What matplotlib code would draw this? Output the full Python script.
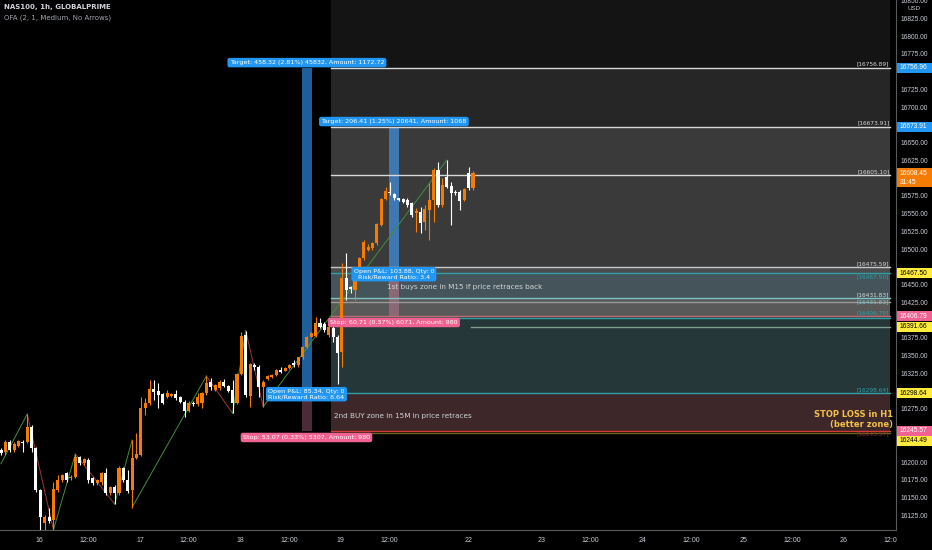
import matplotlib
matplotlib.use('Agg')
import matplotlib.pyplot as plt
import matplotlib.transforms as mtransforms
from matplotlib.patches import Rectangle
import numpy as np


# hourly candles NAS100
opens = [16218.3, 16216.0, 16230.1, 16218.3, 16224.0, 16230.1, 16230.1, 16251.2, 16220.7, 16162.0,
         16116.0, 16124.4, 16119.7, 16162.0, 16176.1, 16185.5, 16178.4, 16180.8, 16208.0, 16199.5,
         16204.2, 16178.4, 16171.4, 16173.7, 16185.5, 16157.3, 16165.7, 16157.3, 16192.5, 16176.1,
         16162.0, 16206.6, 16211.3, 16277.0, 16284.0, 16303.8, 16301.9, 16297.2, 16293.4, 16294.4,
         16297.2, 16292.5, 16286.4, 16273.7, 16285.0, 16283.1, 16284.0, 16298.1, 16314.6, 16302.8,
         16305.2, 16314.6, 16308.5, 16302.8, 16284.0, 16325.4, 16380.3, 16294.4, 16338.1, 16335.7,
         16306.6, 16318.8, 16321.6, 16324.0, 16331.0, 16330.1, 16333.4, 16340.4, 16338.1, 16348.9,
         16363.9, 16378.0, 16378.9, 16396.8, 16395.8, 16380.3, 16390.0, 16378.0, 16356.9, 16460.1,
         16448.4, 16443.7, 16464.8, 16488.3, 16500.1, 16502.4, 16509.4, 16535.3, 16571.4, 16582.2,
         16578.9, 16572.8, 16571.4, 16570.5, 16565.8, 16551.7, 16554.0, 16539.9, 16556.4, 16570.5,
         16612.7, 16563.4, 16603.3, 16590.2, 16582.2, 16582.2, 16570.5, 16608.0, 16586.9]
highs = [16220.7, 16232.4, 16232.0, 16229.0, 16233.0, 16232.4, 16269.0, 16253.0, 16223.0, 16163.0,
         16126.8, 16136.2, 16173.7, 16183.1, 16185.0, 16187.8, 16183.0, 16212.7, 16210.0, 16207.0,
         16206.6, 16180.0, 16178.0, 16187.8, 16192.5, 16168.0, 16169.0, 16195.8, 16194.9, 16190.2,
         16232.4, 16241.8, 16293.4, 16291.1, 16316.9, 16316.9, 16312.2, 16299.1, 16302.8, 16299.0,
         16302.8, 16294.0, 16288.8, 16287.0, 16287.0, 16298.1, 16300.5, 16322.6, 16319.3, 16312.0,
         16316.9, 16317.9, 16310.0, 16316.9, 16326.3, 16385.0, 16386.4, 16340.4, 16340.4, 16338.1,
         16316.9, 16324.0, 16326.0, 16333.0, 16335.7, 16335.0, 16340.0, 16345.1, 16349.8, 16365.0,
         16379.0, 16385.0, 16406.1, 16403.8, 16398.0, 16395.0, 16393.0, 16381.0, 16481.3, 16495.4,
         16450.0, 16467.2, 16490.7, 16514.1, 16508.0, 16512.0, 16538.0, 16573.0, 16589.3, 16596.3,
         16580.0, 16574.0, 16573.0, 16572.8, 16568.1, 16558.7, 16561.1, 16563.4, 16593.9, 16615.1,
         16624.5, 16601.0, 16626.8, 16596.3, 16584.0, 16584.6, 16587.0, 16617.4, 16612.0]
lows = [16211.3, 16211.3, 16216.0, 16216.0, 16222.0, 16216.0, 16227.7, 16216.0, 16159.6, 16105.7,
        16106.0, 16116.0, 16106.0, 16159.6, 16174.0, 16173.7, 16176.0, 16178.4, 16197.0, 16197.0,
        16172.3, 16169.0, 16169.0, 16169.0, 16154.9, 16155.0, 16142.3, 16154.9, 16173.7, 16157.3,
        16136.2, 16205.0, 16209.9, 16267.6, 16281.7, 16288.8, 16277.0, 16283.1, 16291.1, 16293.0,
        16288.8, 16285.0, 16265.3, 16272.0, 16281.0, 16280.3, 16277.0, 16295.8, 16302.8, 16301.0,
        16302.8, 16306.6, 16300.0, 16270.0, 16283.1, 16324.0, 16293.4, 16278.4, 16331.0, 16293.4,
        16279.4, 16317.0, 16320.0, 16322.0, 16326.3, 16329.0, 16332.0, 16335.7, 16335.7, 16347.0,
        16362.0, 16377.0, 16378.0, 16389.7, 16385.0, 16378.0, 16370.0, 16312.0, 16335.7, 16429.6,
        16440.0, 16429.6, 16462.5, 16486.0, 16498.0, 16500.0, 16507.0, 16534.0, 16570.5, 16577.5,
        16571.0, 16569.0, 16566.0, 16561.1, 16547.0, 16525.9, 16523.5, 16528.2, 16514.1, 16539.9,
        16561.1, 16561.1, 16586.9, 16535.3, 16578.0, 16556.4, 16569.0, 16584.6, 16585.0]
closes = [16213.6, 16230.1, 16218.3, 16226.8, 16231.5, 16227.7, 16251.2, 16220.7, 16162.0, 16124.4,
          16124.4, 16118.8, 16162.9, 16176.1, 16183.1, 16176.1, 16180.8, 16208.9, 16199.5, 16205.2,
          16176.1, 16171.4, 16176.1, 16185.5, 16157.3, 16166.7, 16157.3, 16192.5, 16176.1, 16161.0,
          16206.6, 16212.7, 16277.0, 16284.0, 16303.8, 16300.5, 16295.8, 16284.0, 16298.1, 16297.2,
          16291.1, 16286.4, 16273.3, 16285.0, 16283.1, 16293.4, 16299.1, 16312.2, 16306.6, 16309.9,
          16314.6, 16308.5, 16301.9, 16284.0, 16325.4, 16378.9, 16295.8, 16339.5, 16334.8, 16307.5,
          16314.6, 16322.6, 16324.0, 16331.0, 16328.7, 16333.4, 16338.1, 16338.1, 16348.9, 16363.9,
          16378.0, 16383.6, 16396.8, 16392.1, 16387.4, 16392.1, 16378.0, 16355.0, 16460.1, 16443.7,
          16444.7, 16464.8, 16488.3, 16511.8, 16504.8, 16510.4, 16536.7, 16571.4, 16583.6, 16579.9,
          16572.8, 16570.5, 16568.1, 16563.4, 16549.3, 16555.4, 16538.6, 16557.3, 16570.5, 16612.7,
          16563.4, 16591.6, 16589.3, 16579.9, 16579.9, 16569.5, 16585.5, 16586.9, 16608.45]

# zigzag swing points (bar index, price)
zz_bars = [0, 6, 12, 17, 26, 30, 30, 47, 53, 56, 60, 102]
zz_prices = [16199, 16269, 16106, 16212.7, 16142.3, 16232.4, 16137.6, 16322.6, 16270, 16386.4, 16279.4, 16626.8]

# time axis
time_ticks = [8.7, 19.9, 31.8, 42.9, 54.7, 66.0, 77.7, 88.9, 106.9, 123.8, 134.8, 146.9, 157.9, 170.0, 181.1, 192.9, 203.6]
time_labels = ['16', '12:00', '17', '12:00', '18', '12:00', '19', '12:00', '22',
               '23', '12:00', '24', '12:00', '25', '12:00', '26', '12:0']

# price axis
price_ticks = np.arange(16125, 16851, 25)

# shaded zones of the two long position tools: (low, high, colour)
zone_lows = [16756.89, 16673.91, 16475.59, 16467.50, 16431.83, 16406.79, 16298.64, 16245.57]
zone_highs = [16852.0, 16756.89, 16673.91, 16475.59, 16467.50, 16431.83, 16406.79, 16298.64]
zone_colors = ['#141414', '#262626', '#3a3a3a', '#4a4c4d', '#44545a', '#595959', '#26373a', '#3d2729']

# horizontal levels
level_prices = [16756.89, 16673.91, 16605.10, 16475.59, 16467.50, 16431.83, 16427.5, 16406.79,
                16404.0, 16298.64, 16245.57, 16242.5]
level_colors = ['#d8d8d8', '#d8d8d8', '#d8d8d8', '#c8c8c8', '#2e9fa6', '#7fc0c2', '#9a9a9a', '#c46a72',
                '#2e9fa6', '#2e9fa6', '#d63a34', '#6e6520']

# bracket labels next to the right edge (price, text colour, above the line?)
bracket_prices = [16756.89, 16673.91, 16605.10, 16475.59, 16467.50, 16431.83, 16431.83, 16406.79, 16298.64, 16245.57]
bracket_colors = ['#d8d8d8', '#d8d8d8', '#d8d8d8', '#d8d8d8', '#2e9fa6', '#d8d8d8', '#7fc0c2', '#2e9fa6', '#2e9fa6', '#8a3030']
bracket_above = [True, True, True, True, False, True, False, True, True, False]

# coloured price-scale labels
tag_prices = [16756.89, 16673.91, 16608.45, 16467.50, 16406.79, 16391.66, 16298.64, 16245.57, 16244.49]
tag_texts = ['16756.96', '16673.91', '16608.45', '16467.50', '16406.79', '16391.66', '16298.64', '16245.57', '16244.49']
tag_colors = ['#2196f3', '#2196f3', '#f57c00', '#ffeb3b', '#f06292', '#ffeb3b', '#ffeb3b', '#f06292', '#ffeb3b']

UP = '#f57c00'
DOWN = '#ffffff'
X_START = 75.5     # left edge of the position boxes
X_END = 203.4      # right edge of the position boxes
AXFONT = 'Liberation Sans'


fig = plt.figure(figsize=(9.32, 5.5), dpi=100, facecolor='black')
ax = fig.add_axes([0, 20 / 550, 896 / 932, 530 / 550])
ax.set_facecolor('black')
ax.set_xlim(-0.23, 204.8)
ax.set_ylim(16105.7, 16852.2)

# zones
for lo, hi, col in zip(zone_lows, zone_highs, zone_colors):
    ax.add_patch(Rectangle((X_START, lo), X_END - X_START, hi - lo, color=col, lw=0, zorder=0))

# entry columns of the two position tools
ax.add_patch(Rectangle((68.9, 16298.64), 2.3, 16756.89 - 16298.64, color='#1f5f99', lw=0, zorder=1))
ax.add_patch(Rectangle((68.9, 16245.57), 2.3, 16298.64 - 16245.57, color='#4d2a38', lw=0, zorder=1))
ax.add_patch(Rectangle((88.8, 16467.50), 2.3, 16673.91 - 16467.50, color='#3d78b2', lw=0, zorder=1))
ax.add_patch(Rectangle((88.8, 16406.79), 2.3, 16467.50 - 16406.79, color='#8c6876', lw=0, zorder=1))

# horizontal levels
for p, col in zip(level_prices, level_colors):
    ax.plot([X_START, X_END], [p, p], color=col, lw=1, zorder=2)
ax.plot([107.5, X_END], [16391.66, 16391.66], color='#7f9c8c', lw=1, zorder=2)

# zigzag
for i in range(len(zz_bars) - 1):
    col = '#3f8f3a' if zz_prices[i + 1] > zz_prices[i] else '#9a3838'
    ax.plot(zz_bars[i:i + 2], zz_prices[i:i + 2], color=col, lw=0.7, zorder=3)

# candles
x = np.arange(len(opens))
o = np.array(opens)
c = np.array(closes)
colors = [UP if cc >= oo else DOWN for oo, cc in zip(o, c)]
ax.vlines(x, lows, highs, colors=colors, lw=0.8, zorder=4)
ax.bar(x, np.maximum(np.abs(c - o), 0.8), bottom=np.minimum(o, c), width=0.7,
       color=colors, lw=0, zorder=5)

# position tool labels
blue = dict(boxstyle='round,pad=0.35', fc='#2196f3', ec='none')
pink = dict(boxstyle='round,pad=0.35', fc='#f06292', ec='none')
ax.text(70, 16764, 'Target: 458.32 (2.81%) 45832, Amount: 1172.72', fontsize=4.6,
        color='white', ha='center', va='center', bbox=blue, zorder=7)
ax.text(89.9, 16681, 'Target: 206.41 (1.25%) 20641, Amount: 1068', fontsize=4.6,
        color='white', ha='center', va='center', bbox=blue, zorder=7)
ax.text(89.9, 16466, 'Open P&L: 103.88, Qty: 0\nRisk/Reward Ratio: 3.4', fontsize=4.6,
        color='white', ha='center', va='center', linespacing=1.0, bbox=blue, zorder=7)
ax.text(89.9, 16398, 'Stop: 60.71 (0.37%) 6071, Amount: 980', fontsize=4.6,
        color='white', ha='center', va='center', bbox=pink, zorder=7)
ax.text(69.9, 16297, 'Open P&L: 85.34, Qty: 0\nRisk/Reward Ratio: 8.64', fontsize=4.6,
        color='white', ha='center', va='center', linespacing=1.0, bbox=blue, zorder=7)
ax.text(69.9, 16236, 'Stop: 53.07 (0.33%) 5307, Amount: 980', fontsize=4.6,
        color='white', ha='center', va='center', bbox=pink, zorder=7)

# notes
ax.text(88.4, 16447.5, '1st buys zone in M15 if price retraces back', fontsize=5.2,
        color='#d0d4d8', ha='left', va='center', zorder=6)
ax.text(76.3, 16266.5, '2nd BUY zone in 15M in price retraces', fontsize=5.2,
        color='#d0d4d8', ha='left', va='center', zorder=6)
ax.text(204.1, 16261, 'STOP LOSS in H1\n(better zone)', fontsize=6, fontweight='bold',
        color='#f2c04a', ha='right', va='center', linespacing=1.15, zorder=6)

# bracket labels
for p, col, above in zip(bracket_prices, bracket_colors, bracket_above):
    ax.text(203.3, p + 1.5 if above else p - 1.5, '[' + format(p, '.2f') + ']', fontsize=4.2,
            color=col, ha='right', va='bottom' if above else 'top', zorder=5.5)

# header
fig.text(4 / 932, 1 - 7 / 550, 'NAS100, 1h, GLOBALPRIME', fontsize=5, color='#d1d4dc',
         fontweight='bold', va='center')
fig.text(4 / 932, 1 - 18 / 550, 'OFA (2, 1, Medium, No Arrows)', fontsize=5, color='#a0a4ac',
         va='center')

# time axis
ax.set_xticks(time_ticks)
ax.set_xticklabels(time_labels, family=AXFONT)
ax.tick_params(axis='x', length=0, pad=5, labelsize=5, labelcolor='#c8ccd4')

# coloured tags on the price scale (pushed apart when they would collide)
tr = mtransforms.blended_transform_factory(fig.transFigure, ax.transData)
tag_spans = []
prev = None
for p, txt, col in zip(tag_prices, tag_texts, tag_colors):
    h = 26 if txt == '16608.45' else 14
    yc = p
    if prev is not None and prev - yc < 14:
        yc = prev - 14
    top = yc + 7
    tag_spans.append((top - h, top))
    ax.add_patch(Rectangle((897 / 932, top - h), 35 / 932, h, transform=tr, color=col,
                           lw=0, clip_on=False, zorder=8))
    tcol = 'black' if col == '#ffeb3b' else 'white'
    ax.text(900 / 932, yc, txt, transform=tr, fontsize=4.8, family=AXFONT, color=tcol,
            ha='left', va='center', clip_on=False, zorder=9)
    prev = yc
ax.text(900 / 932, 16595, '31:45', transform=tr, fontsize=4.8, family=AXFONT, color='white',
        ha='left', va='center', clip_on=False, zorder=9)

# plain price scale, hidden where a tag covers it
ax.set_yticks([])
for p in price_ticks:
    if any(lo - 5 < p < hi + 5 for lo, hi in tag_spans):
        continue
    ax.text(901 / 932, p, format(p, '.2f'), transform=tr, fontsize=4.8, family=AXFONT,
            color='#c8ccd4', ha='left', va='center', clip_on=False)
ax.text(914 / 932, 16840, 'USD', transform=tr, fontsize=4.5, family=AXFONT, color='#c8ccd4',
        ha='center', va='center', clip_on=False)

for side in ['top', 'left']:
    ax.spines[side].set_visible(False)
ax.spines['bottom'].set_color('#5a5a5a')
ax.spines['right'].set_color('#5a5a5a')

fig.savefig('out.png', dpi=100, facecolor='black')
